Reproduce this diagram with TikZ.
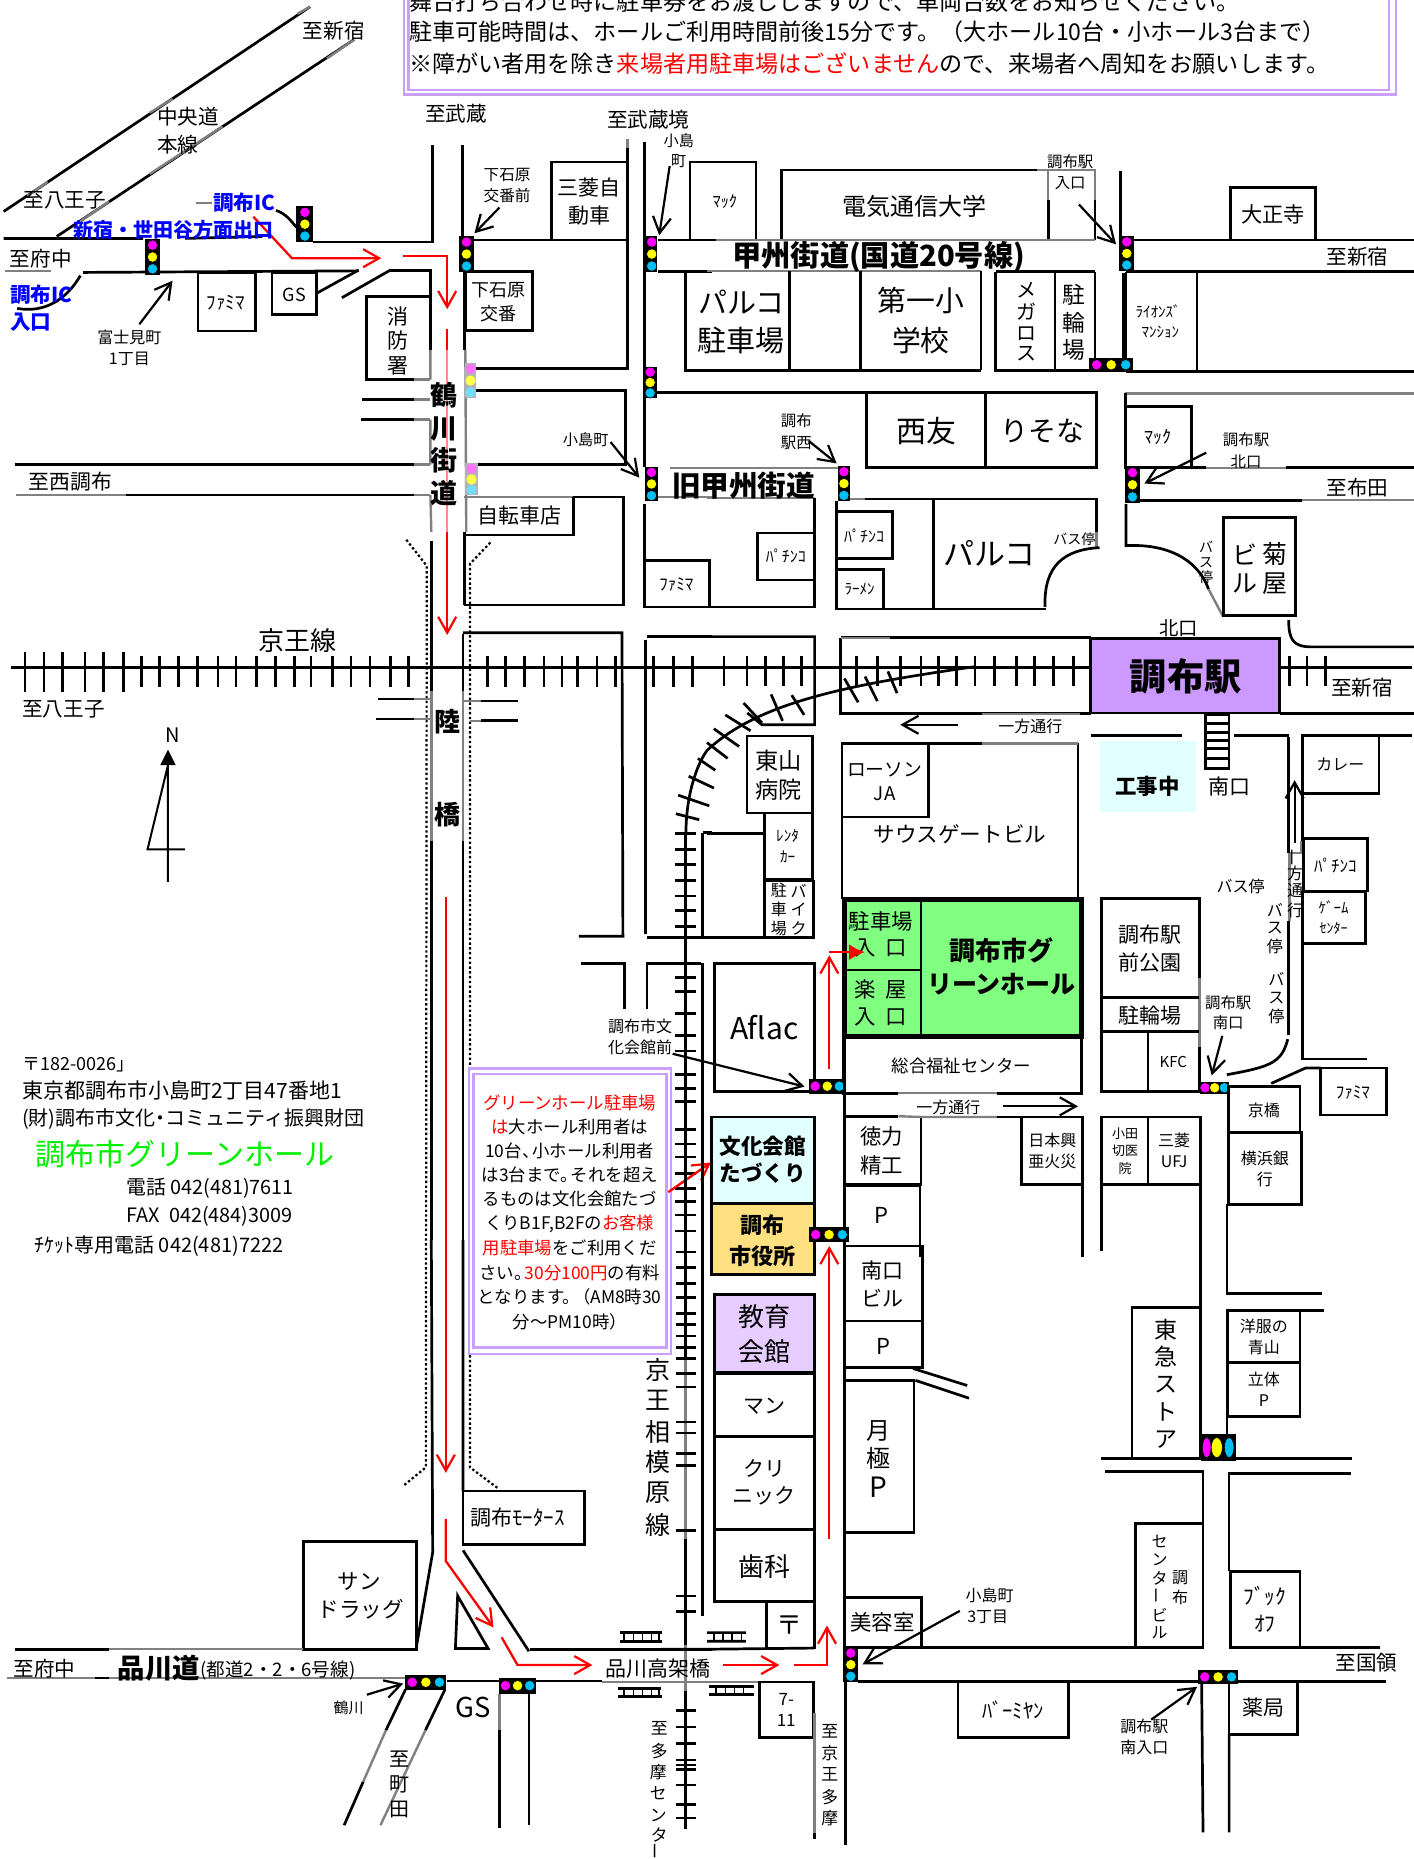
\documentclass[tikz,border=0pt]{standalone}
\usepackage{fontspec}
\setmainfont{Noto Sans CJK JP}
\usetikzlibrary{arrows.meta}
\definecolor{sm}{HTML}{FF00FF}\definecolor{sy}{HTML}{FFFF00}\definecolor{sc}{HTML}{00BFF3}
\definecolor{lil}{HTML}{C9A0FF}\definecolor{gry}{HTML}{808080}\definecolor{pk}{HTML}{FF8C8C}
\definecolor{blu}{HTML}{0000FF}\definecolor{hallg}{HTML}{80FF80}\definecolor{lcy}{HTML}{E2FFFF}
\definecolor{stn}{HTML}{CC99FF}\definecolor{edu}{HTML}{E6CCFF}\definecolor{cty}{HTML}{FFE080}
\tikzset{
 fa/.style={x=.227pt,y=-.1977pt},
 fr/.style={x=.229pt,y=-.1977pt},
 fb/.style={fr,xshift=353.5pt},
 fc/.style={fa,yshift=-310pt},
 fd/.style={fr,xshift=353.5pt,yshift=-310pt},
 fe/.style={fa,yshift=-620pt},
 ff/.style={fr,xshift=353.5pt,yshift=-620pt},
 rd/.style={line width=1.35pt,black},
 gr/.style={line width=1.2pt,gry},
 dots/.style={line width=1.1pt,black,dash pattern=on 1.2pt off 1.2pt},
 tip/.style={-{Straight Barb[length=8pt,width=9pt,line width=1.1pt]}},
 rarr/.style={line width=1.15pt,red,tip},
 blk/.style={line width=1.1pt,black,tip},
 sgn/.style={circle,inner sep=0pt,minimum size=5.2pt,draw=black,line width=.3pt},
}
\newcount\nnc
\newcommand\nxt{\global\advance\nnc by 1\relax}
\newcommand\lb[3]{\nxt\node[inner sep=0pt,font=\fontsize{#2}{#2}\selectfont] (n\the\nnc) at (#1) {#3};}
\newcommand\lbw[3]{\nxt\node[inner sep=0pt,anchor=west,font=\fontsize{#2}{#2}\selectfont] (n\the\nnc) at (#1) {#3};}
\newcommand\bx[2]{\draw[rd] (#1) rectangle (#2);}
\newcommand\lead[3][blk]{\coordinate (la) at (#2);\coordinate (lb) at (#3);\draw[#1] (la)--(lb);}
\newcommand\sigV[4]{\fill[black] (#1,#2) rectangle (#3,#4);
 \pgfmathsetmacro\smx{(#1+#3)/2}\pgfmathsetmacro\sya{#2+(#4-#2)/6}\pgfmathsetmacro\syb{#2+(#4-#2)/2}\pgfmathsetmacro\syc{#2+(#4-#2)*5/6}
 \nxt\node[sgn,fill=sm] (n\the\nnc) at (\smx,\sya) {};\nxt\node[sgn,fill=sy] (n\the\nnc) at (\smx,\syb) {};\nxt\node[sgn,fill=sc] (n\the\nnc) at (\smx,\syc) {};}
\newcommand\sigP[4]{\fill[gry!60] (#1,#2) rectangle (#3,#4);
 \pgfmathsetmacro\smx{(#1+#3)/2}\pgfmathsetmacro\sya{#2+(#4-#2)/6}\pgfmathsetmacro\syb{#2+(#4-#2)/2}\pgfmathsetmacro\syc{#2+(#4-#2)*5/6}
 \nxt\node[sgn,draw=none,fill=sm!55] (n\the\nnc) at (\smx,\sya) {};\nxt\node[sgn,draw=none,fill=sy!70] (n\the\nnc) at (\smx,\syb) {};\nxt\node[sgn,draw=none,fill=sc!55] (n\the\nnc) at (\smx,\syc) {};}
\newcommand\sigH[4]{\fill[black] (#1,#2) rectangle (#3,#4);
 \pgfmathsetmacro\smy{(#2+#4)/2}\pgfmathsetmacro\sxa{#1+(#3-#1)/6}\pgfmathsetmacro\sxb{#1+(#3-#1)/2}\pgfmathsetmacro\sxc{#1+(#3-#1)*5/6}
 \nxt\node[sgn,fill=sm] (n\the\nnc) at (\sxa,\smy) {};\nxt\node[sgn,fill=sy] (n\the\nnc) at (\sxb,\smy) {};\nxt\node[sgn,fill=sc] (n\the\nnc) at (\sxc,\smy) {};}
\newcommand\tg{\hspace{-.4em}}
\begin{document}
\begin{tikzpicture}
\useasboundingbox (0pt,0pt) rectangle (707pt,-929.5pt);
\clip (0pt,0pt) rectangle (707pt,-929.5pt);
\fill[white] (0pt,0pt) rectangle (707pt,-929.5pt);
%==== top note
\begin{scope}[fa]
\draw[lil,line width=1.4pt] (890,-30) rectangle (3075,240);
\draw[lil,line width=1.2pt] (900,-30) rectangle (3060,228);
\lbw{900,5}{11.55}{舞台打ち合わせ時に駐車券をお渡ししますので、車両台数をお知らせください。}
\lbw{900,80}{11.55}{駐車可能時間は、ホールご利用時間前後15分です。（大ホール10台・小ホール3台まで）}
\lbw{900,160}{11.55}{※障がい者用を除き\textcolor{red}{来場者用駐車場はございません}ので、来場者へ周知をお願いします。}
\end{scope}
%==== frame A: upper left
\begin{scope}[fa]
\draw[rd] (8,535)--(683,17); \draw[gr] (60,495)--(105,460) (330,285)--(380,250) (655,35)--(683,17);
\draw[rd] (125,598)--(780,100); \draw[gr] (170,565)--(240,510) (330,440)--(490,320) (720,148)--(780,100);
\draw[rd] (8,603)--(315,603) (408,603)--(578,598) (183,689)--(790,685);
\draw[gr] (12,685)--(113,685) (432,514)--(468,514);
\draw[rd] (690,612)--(953,612)--(953,367) (1019,367)--(1019,600);
\draw[rd] (1045,607)--(1382,607) (1382,375)--(1382,935) (1214,607)--(1214,410)--(1382,410);
\draw[gr] (1382,352)--(1382,375);
\draw[rd] (1420,358)--(1420,1180) (1420,1275)--(1420,1535);
\bx{1420,1417}{1562,1535}
\draw[rd] (1450,607)--(1568,607) (1450,686)--(1568,686) (1510,686)--(1510,937)--(1568,937) (1448,992)--(1568,992);
\draw[rd] (1520,607)--(1520,410)--(1568,410);
\draw[gr] (1476,1183)--(1568,1183) (1450,1257)--(1568,1257);
\draw[rd] (1048,932)--(1382,932) (1048,988)--(1378,988)--(1378,1175)--(1045,1175);
\draw[rd] (860,685)--(948,685)--(948,885) (1023,686)--(1023,885);
\draw[gr] (948,885)--(948,960) (948,1061)--(948,1175) (948,1252)--(950,1345) (1025,885)--(1027,1345);
\draw[rd] (948,750)--(807,750)--(807,960)--(912,960); \draw[gr] (912,960)--(948,960);
\bx{1025,686}{1173,836}
\bx{599,690}{697,795}
\bx{436,690}{562,837}
\draw[rd] (697,742)--(790,683) (753,753)--(860,683);
\draw[rd] (798,1010)--(912,1010) (795,1061)--(912,1061) (32,1175)--(912,1175) (278,1252)--(912,1252);
\draw[gr] (912,1010)--(948,1010) (912,1061)--(948,1061) (912,1175)--(948,1175) (35,1252)--(278,1252) (912,1252)--(948,1252);
\draw[rd] (1263,1257)--(1373,1257)--(1373,1530)--(1023,1530);
\draw[rd] (1023,1345)--(1023,1530);
\draw[gr] (1023,1257)--(1263,1257);
\draw[rd] (1263,1257)--(1263,1353)--(1023,1353);
\draw[rd] (608,532) to[out=-20,in=130] (653,575) (38,780) to[out=-10,in=-120] (177,697);
\sigV{653}{522}{690}{612}\sigV{320}{605}{352}{695}\sigV{1010}{597}{1045}{688}\sigV{1423}{597}{1448}{688}
\sigP{1025}{918}{1048}{1007}\sigP{1025}{1172}{1052}{1253}\sigV{1418}{928}{1446}{1007}\sigV{1420}{1180}{1450}{1268}
\draw[rarr] (558,548)--(643,653)--(840,653);
\draw[rarr] (888,648)--(985,648)--(985,782);
\draw[line width=1.15pt,red] (985,832)--(985,885); \draw[line width=1.15pt,pk] (985,885)--(985,1345);
\draw[rarr] (985,1345)--(985,1606);
\lead{1100,525}{1045,590}\lead{307,820}{380,710}\lead{1475,420}{1452,595}\lead{1345,1118}{1408,1208}
\lb{735,78}{10.3}{至新宿}
\lbw{345,295}{10.3}{中央道}\lbw{345,365}{10.3}{本線}
\lb{143,507}{10.3}{至八王子}
\lb{538,512}{10.3}{\bfseries\textcolor{blu}{調布IC}}
\lb{382,582}{10}{\bfseries\textcolor{blu}{新宿・世田谷方面出口}}
\lb{90,654}{10.3}{至府中}
\lbw{22,745}{10.3}{\bfseries\textcolor{blu}{調布IC}}\lbw{22,815}{10.3}{\bfseries\textcolor{blu}{入口}}
\lb{285,854}{8}{富士見町}\lb{285,907}{8}{1丁目}
\lb{497,767}{9.5}{ﾌｧﾐﾏ}\lb{648,745}{9}{GS}
\lb{1117,443}{7.8}{下石原}\lb{1117,495}{7.8}{交番前}
\lb{1298,475}{10.5}{三菱自}\lb{1298,545}{10.5}{動車}
\lb{1005,288}{10.3}{至武蔵}\lb{1428,302}{10.3}{至武蔵境}
\lb{1495,355}{7.6}{小島}\lb{1495,408}{7.6}{町}
\lb{1098,733}{9}{下石原}\lb{1098,793}{9}{交番}
\lb{877,800}{10.5}{消}\lb{877,862}{10.5}{防}\lb{877,925}{10.5}{署}
\lb{1290,1112}{7.6}{小島町}
\lb{155,1218}{10.4}{至西調布}
\lb{978,1000}{13.5}{\bfseries 鶴}\lb{978,1085}{13.5}{\bfseries 川}\lb{978,1165}{13.5}{\bfseries 街}\lb{978,1248}{13.5}{\bfseries 道}
\lb{1145,1305}{10.5}{自転車店}
\lb{1490,1478}{8.5}{ﾌｧﾐﾏ}
\end{scope}
%==== frame B: upper right
\begin{scope}[fb]
\draw[rd] (0,410)--(107,410)--(107,607) (0,607)--(20,607);
\draw[rd] (163,607)--(163,430)--(720,430) (745,505)--(745,607) (847,505)--(847,607) (903,432)--(903,600);
\draw[gr] (720,430)--(847,430)--(847,505) (745,430)--(745,505) (20,607)--(847,607);
\draw[rd] (933,607)--(1544,607) (915,687)--(1544,687) (915,940)--(1544,940);
\bx{1143,475}{1328,607}
\draw[gr] (0,685)--(598,685);
\draw[rd] (0,937)--(598,937) (180,685)--(180,937) (335,685)--(335,937) (598,685)--(598,937);
\draw[rd] (630,687)--(847,687) (630,687)--(630,937)--(835,937) (760,687)--(760,937) (847,687)--(847,905);
\draw[rd] (910,690)--(910,905) (915,687)--(915,940) (1070,687)--(1070,940);
\draw[rd] (0,992)--(850,992)--(850,1183)--(348,1183)--(348,992) (608,992)--(608,1183);
\draw[gr] (0,1183)--(285,1183) (0,1260)--(235,1260) (313,1262)--(345,1262);
\draw[rd] (345,1262)--(850,1262)--(850,1345); \draw[gr] (850,1345)--(850,1385);
\draw[rd] (235,1260)--(235,1535)--(0,1535);
\bx{110,1348}{235,1467}
\draw[rd] (283,1268)--(283,1540)--(740,1540) (495,1262)--(495,1540);
\bx{283,1293}{405,1412}\bx{283,1440}{385,1540}
\draw[rd] (857,1385) .. controls (780,1390) and (735,1430) .. (738,1535);
\draw[rd] (915,1275)--(915,1380) .. controls (1000,1375) and (1070,1410) .. (1095,1490);
\draw[gr] (1095,1490)--(1127,1560);
\bx{1127,1308}{1285,1557}
\draw[gry,line width=1.1pt] (913,995)--(1544,995); \draw[rd] (913,995)--(913,1183);
\bx{913,1028}{1058,1183}
\draw[rd] (945,1183)--(1090,1183) (1265,1183)--(1544,1183) (945,1265)--(1300,1265);
\draw[gr] (1090,1183)--(1265,1183) (1300,1265)--(1544,1265);
\sigV{900}{597}{933}{685}\sigH{835}{905}{930}{940}\sigV{285}{1178}{313}{1268}\sigV{913}{1180}{945}{1272}
\lead{812,517}{893,618}\lead{222,1115}{283,1172}\lead{1090,1145}{955,1223}
\lb{453,522}{12}{電気通信大学}
\lb{793,410}{7.7}{調布駅}\lb{793,463}{7.7}{入口}
\lb{1236,542}{10.6}{大正寺}\lb{1420,650}{10.3}{至新宿}\lb{39,510}{8.2}{ﾏｯｸ}
\lb{375,650}{14.6}{\bfseries 甲州街道(国道20号線)}
\lb{75,765}{14.5}{パルコ}\lb{75,860}{14.5}{駐車場}
\lb{467,760}{14.4}{第一小}\lb{467,862}{14.4}{学校}
\lb{697,735}{10}{メ}\lb{697,787}{10}{ガ}\lb{697,845}{10}{ロ}\lb{697,895}{10}{ス}
\lb{802,745}{11.4}{駐}\lb{802,817}{11.4}{輪}\lb{802,885}{11.4}{場}
\lb{985,787}{7.5}{ﾗｲｵﾝｽﾞ}\lb{990,840}{7.5}{ﾏﾝｼｮﾝ}
\lb{480,1090}{15}{西友}\lb{732,1090}{14}{りそな}
\lb{195,1065}{7.7}{調布}\lb{195,1120}{7.7}{駅西}
\lb{80,1228}{14.3}{\bfseries 旧甲州街道}
\lb{172,1407}{8}{ﾊﾟﾁﾝｺ}\lb{343,1355}{8}{ﾊﾟﾁﾝｺ}\lb{333,1490}{7.5}{ﾗｰﾒﾝ}
\lb{617,1400}{15.5}{パルコ}\lb{802,1363}{7}{バス停}
\lb{1090,1382}{7}{バ}\lb{1090,1423}{7}{ス}\lb{1090,1460}{7}{停}
\lb{1175,1402}{12.5}{ビ}\lb{1240,1402}{12.5}{菊}\lb{1175,1475}{12.5}{ル}\lb{1240,1475}{12.5}{屋}
\lb{985,1105}{9}{ﾏｯｸ}\lb{1177,1113}{7.7}{調布駅}\lb{1177,1167}{7.7}{北口}
\lb{1420,1233}{10.3}{至布田}
\end{scope}
%==== frame E dotted + long lines
\begin{scope}[fe]
\draw[dots] (895,-1771)--(940,-1705)--(938,575)--(888,622);
\draw[dots] (1080,-1764)--(1035,-1710)--(1035,575)--(1097,628);
\end{scope}
%==== frame C
\begin{scope}[fc]
\draw[rd] (25,120)--(1568,120);
\foreach \x in {55,97,137,187,228,272} \draw[rd] (\x,82)--(\x,182);
\foreach \x in {312,352,393,435,480,520,565,607,648,685,733,773,815,860,900,1073,1113,1155,1198,1238,1272,1315,1355,1440,1483,1525} \draw[rd] (\x,92)--(\x,170);
\draw[rd] (950,-200)--(950,180) (1020,35)--(1020,180) (950,560)--(950,1568) (1020,560)--(1020,1568);
\draw[gr] (950,180)--(950,560) (1020,180)--(1020,560);
\draw[rd] (1020,32)--(1370,32)--(1372,800)--(1275,800);
\draw[rd] (1280,868)--(1375,868)--(1375,985) (1425,985)--(1425,868)--(1545,868);
\draw[rd] (1422,795)--(1422,50) (1425,42)--(1568,42) (1425,803)--(1568,803) (1548,538)--(1548,803) (1548,538)--(1568,538);
\draw[rd] (832,200)--(912,200) (828,250)--(912,250) (1060,205)--(1140,205) (1060,255)--(1140,255);
\draw[gr] (912,200)--(950,200) (912,250)--(950,250) (1020,205)--(1060,205) (1035,255)--(1060,255);
\foreach \y in {540,580,618,658,698,735,775,905,940,995,1050,1090,1150,1185,1218,1288,1325,1358,1400,1437,1470,1505,1545} \draw[rd] (1487,\y)--(1533,\y);
\lb{655,53}{13}{京王線}\lb{140,227}{10.3}{至八王子}
\lb{380,292}{10}{N}
\fill[black] (370,328)--(353,367)--(387,367)--cycle;
\draw[line width=1pt] (370,367)--(370,662) (370,367)--(325,580)--(407,580);
\lb{985,258}{13}{\bfseries 陸}\lb{985,493}{13}{\bfseries 橋}
\draw[rarr] (982,700)--(982,2157);
\lbw{48,1125}{9}{〒182-0026」}
\lbw{48,1190}{10.5}{東京都調布市小島町2丁目47番地1}
\lbw{48,1262}{10}{(財)調布市文化\hspace{-.25em}・\hspace{-.25em}コミュニティ振興財団}
\lb{408,1350}{15}{\textcolor[HTML]{00F000}{調布市グリーンホール}}
\lbw{278,1438}{9.9}{電話 042(481)7611}
\lbw{278,1507}{9.9}{FAX\ \ 042(484)3009}
\lb{1410,1028}{8}{調布市文}\lb{1410,1080}{8}{化会館前}
\draw[lil,line width=1.3pt,fill=white] (1033,1135) rectangle (1478,1856);
\draw[lil,line width=1.3pt] (1043,1148) rectangle (1468,1840);
\lb{1255,1220}{8.7}{\textcolor{red}{グリーンホール駐車場}}
\lb{1255,1282}{8.7}{\textcolor{red}{は}大ホール利用者は}
\lb{1255,1342}{8.7}{10台、\tg 小ホール利用者}
\lb{1255,1403}{8.7}{は3台まで。\tg それを超え}
\lb{1255,1465}{8.7}{るものは文化会館たづ}
\lb{1255,1527}{8.7}{くりB1F,B2Fの\textcolor{red}{お客様}}
\lb{1255,1589}{8.7}{\textcolor{red}{用駐車場}をご利用くだ}
\lb{1255,1651}{8.7}{さい。\tg\textcolor{red}{30分100円}の有料}
\lb{1255,1712}{8.7}{となります。\tg（AM8時30}
\lb{1255,1774}{8.7}{分～PM10時）}
\draw[rarr] (1472,1447)--(1566,1372);
\end{scope}
%==== frame D
\begin{scope}[fd]
\draw[rd] (0,120)--(838,120) (1250,120)--(1540,120);
\foreach \x in {37,87,127,167,207,327,372,422,467,505,545,585,627,675,715,757,800,1272,1310,1350} \draw[rd] (\x,92)--(\x,168);
\draw[rd] (0,42)--(235,42)--(235,265)--(120,265)--(88,235);
\draw[rd] (585,118) .. controls (300,165) and (110,210) .. (0,330) .. controls (-25,370) and (-46,450) .. (-46,540);
\draw[rd] (300,148)--(330,208) (345,143)--(372,205) (395,130)--(415,185) (140,188)--(165,255) (185,190)--(212,240) (80,210)--(120,260) (40,240)--(95,280) (15,275)--(70,320) (0,310)--(45,350) (-20,350)--(18,380) (-40,395)--(15,425) (-63,443)--(5,470) (-68,490)--(-17,505);
\draw[rd] (292,45)--(838,45) (292,45)--(292,237)--(838,237);
\draw[gr] (600,237)--(815,237) (292,45)--(400,45);
\draw[rd,fill=stn] (838,47) rectangle (1250,235);
\lb{1045,143}{18.6}{\bfseries 調布駅}\lb{1030,20}{9.7}{北口}
\draw[rd] (1250,237)--(1545,237);
\draw[rd] (1270,0) .. controls (1270,50) and (1280,68) .. (1320,68)--(1545,68);
\lb{1430,170}{10.3}{至新宿}
\lb{706,268}{8}{一方通行}
\draw[blk] (548,265)--(422,265);
\draw[rd] (810,312)--(810,705) (295,312)--(295,705) (295,312)--(600,312); \draw[gr] (600,312)--(810,312);
\bx{295,312}{483,498}
\lb{388,378}{9.4}{ローソン}\lb{388,440}{9.4}{JA}
\lb{552,542}{10.8}{サウスゲートビル}
\draw[black,line width=2.6pt,fill=hallg] (300,707) rectangle (818,1053);
\draw[rd] (467,707)--(467,1053) (300,885)--(467,885);
\lb{380,763}{10.7}{駐車場}\lb{380,830}{10.7}{入\ \ 口}\lb{380,935}{10.7}{楽\ \ 屋}\lb{380,1005}{10.7}{入\ \ 口}
\lb{643,835}{13}{\bfseries 調布市グ}\lb{643,922}{12.5}{\bfseries リーンホール}
\draw[rd] (297,1055)--(297,1197)--(418,1197) (633,1197)--(818,1197)--(818,1055);
\draw[gr] (418,1197)--(633,1197);
\lb{555,1127}{8.7}{総合福祉センター}
\bx{87,293}{230,488}\lb{157,355}{11.6}{東山}\lb{157,430}{11.6}{病院}
\bx{125,488}{230,655}\lb{176,547}{7.6}{ﾚﾝﾀ}\lb{176,600}{7.6}{ｶｰ}
\bx{125,660}{232,803}
\lb{157,685}{8}{駐}\lb{157,733}{8}{車}\lb{157,780}{8}{場}\lb{200,685}{8}{バ}\lb{200,733}{8}{イ}\lb{200,780}{8}{ク}
\draw[rd] (0,540)--(122,540) (0,803)--(125,803);
\bx{17,868}{235,1193}\lb{125,1030}{15}{Aflac}
\draw[blk] (-75,1097)--(213,1180);
\sigH{223}{1160}{302}{1198}
\draw[rarr] (267,1135)--(267,848);
\draw[line width=1.15pt,red,-{Latex[length=8pt,width=8pt]}] (267,840)--(345,840);
\lb{527,1232}{8}{一方通行}
\draw[blk] (647,1230)--(810,1230);
\draw[rd] (300,1255)--(418,1255) (467,1257)--(467,1427)--(300,1427)--(300,1255);
\draw[gr] (418,1255)--(467,1257)--(633,1257);
\draw[rd] (633,1257)--(687,1257);
\lb{382,1305}{10.7}{徳力}\lb{382,1378}{10.7}{精工}
\bx{687,1257}{820,1428}\lb{754,1317}{8}{日本興}\lb{754,1370}{8}{亜火災}
\draw[rd] (820,1428)--(820,1610) (862,1430)--(862,1595);
\bx{862,1257}{963,1428}\lb{913,1300}{6.5}{小田}\lb{913,1343}{6.5}{切医}\lb{913,1387}{6.5}{院}
\bx{963,1257}{1078,1428}\lb{1020,1315}{8}{三菱}\lb{1020,1370}{8}{UFJ}
\draw[rd] (1078,1428)--(1078,2000) (1135,1478)--(1135,1610);
\draw[rd] (862,955)--(862,705)--(1075,705)--(1075,905);
\draw[gr] (1075,905)--(1075,1080);
\draw[rd] (1075,1080)--(1075,1193)--(862,1193)--(862,955)--(1075,955) (862,1040)--(1075,1040) (963,1040)--(963,1193);
\lb{968,795}{10.5}{調布駅}\lb{968,865}{10.5}{前公園}\lb{968,1000}{10.5}{駐輪場}\lb{1018,1118}{7.5}{KFC}
\lb{1138,967}{7.7}{調布駅}\lb{1138,1018}{7.7}{南口}
\draw[blk] (1125,1052)--(1102,1152);
\sigH{1077}{1168}{1140}{1198}
\draw[rd] (1268,1060) .. controls (1255,1120) and (1230,1130) .. (1135,1150);
\draw[rd] (1270,297)--(1270,590) (1270,760)--(1270,1050) (1300,295)--(1300,560) (1300,685)--(1300,1110)--(1442,1110);
\draw[gr] (1272,590)--(1298,590) (1272,590)--(1272,760) (1298,560)--(1298,590);
\draw[rd] (838,292)--(1038,292) (1150,292)--(1270,292) (1300,292)--(1540,292);
\draw[rd] (1088,240) rectangle (1140,375);
\foreach \y in {262,285,305,325,350} \draw[rd] (1088,\y)--(1140,\y);
\fill[lcy] (858,305) rectangle (1068,485);
\lb{962,422}{10.7}{\bfseries 工事中}\lb{1140,422}{10.5}{南口}
\bx{1300,292}{1467,438}\lb{1383,365}{8}{カレー}
\bx{1303,553}{1442,685}\lb{1372,620}{8.5}{ﾊﾟﾁﾝｺ}
\bx{1300,688}{1437,818}\lb{1368,728}{7.5}{ｹﾞｰﾑ}\lb{1368,780}{7}{ｾﾝﾀｰ}
\draw[blk] (1283,565)--(1283,405);
\lb{1284,600}{8}{\rotatebox{90}{一}}\lb{1284,640}{8}{方}\lb{1284,685}{8}{通}\lb{1284,735}{8}{行}
\lb{1165,675}{8}{バス停}
\lb{1240,733}{8}{バ}\lb{1240,780}{8}{ス}\lb{1240,825}{8}{停}\lb{1243,907}{8}{バ}\lb{1243,957}{8}{ス}\lb{1243,1002}{8}{停}
\bx{1340,1133}{1483,1252}\lb{1410,1195}{8.5}{ﾌｧﾐﾏ}
\draw[rd] (1232,1172)--(1307,1133)--(1340,1133);
\bx{1138,1180}{1295,1297}\lb{1216,1240}{8}{京橋}
\bx{1138,1297}{1298,1478}\lb{1218,1363}{8}{横浜銀}\lb{1218,1415}{8}{行}
\draw[rd,fill=lcy] (10,1257) rectangle (235,1475);
\lb{122,1332}{10.8}{\bfseries 文化会館}\lb{122,1400}{10.8}{\bfseries たづくり}
\draw[rd,fill=cty] (10,1475) rectangle (235,1656);
\lb{122,1530}{11}{\bfseries 調布}\lb{122,1610}{11}{\bfseries 市役所}
\draw[rd] (300,1430)--(465,1430)--(465,1610) (300,1053)--(300,2000);
\lb{380,1505}{11}{P}
\sigH{223}{1535}{310}{1574}
\end{scope}
%==== frame E
\begin{scope}[fe]
\draw[rd] (1510,-1031)--(1510,300) (1510,755)--(1510,1025) (1510,1140)--(1510,1490) (1547,-701)--(1547,950);
\draw[gr] (1510,300)--(1510,755) (1510,1025)--(1510,1140);
\foreach \y in {30,70,110,145,185,213,243,272,300,338,372,460,488,540,570,735,900,940,1190,1232,1273,1315,1328,1340,1378,1428,1462} \draw[rd] (1490,\y)--(1533,\y);
\bx{1020,635}{1288,770}\lb{1140,702}{10.5}{調布ﾓｰﾀｰｽ}
\draw[rd] (950,0)--(953,790)--(917,1030) (1020,0)--(1020,635) (1020,785)--(1165,1040);
\bx{668,763}{917,1035}\lb{792,865}{10.8}{サン}\lb{795,935}{10.8}{ドラッグ}
\draw[rd] (1008,900)--(1003,1033)--(1075,1033)--cycle;
\draw[rd] (32,1035)--(240,1035) (1168,1035)--(1568,1035) (985,1115)--(1100,1115) (1180,1115)--(1325,1115) (210,1108)--(240,1108);
\draw[gr] (240,1035)--(668,1035) (15,1108)--(210,1108) (240,1108)--(893,1108) (1325,1118)--(1568,1118);
\draw[rd] (1365,993)--(1458,993) (1365,1015)--(1458,1015);
\foreach \x in {1375,1395,1415,1435,1452} \draw[line width=.8pt] (\x,993)--(\x,1015);
\draw[rd] (1362,1135)--(1455,1135) (1362,1155)--(1458,1155);
\foreach \x in {1375,1395,1415,1435,1452} \draw[line width=.8pt] (\x,1135)--(\x,1155);
\sigH{893}{1100}{983}{1137}\sigH{1100}{1107}{1180}{1147}
\draw[rd] (893,1137)--(850,1240) (800,1370)--(758,1480) (980,1137)--(937,1240);
\draw[gr] (850,1240)--(800,1370) (937,1240)--(838,1480);
\draw[rd] (1100,1240)--(1100,1488) (1165,1147)--(1165,1480); \draw[gr] (1100,1147)--(1100,1240);
\lb{98,1085}{10.3}{至府中}\lb{350,1082}{13.7}{\bfseries 品川道}\lb{612,1088}{9.3}{(都道2・2・6号線)}
\lb{768,1182}{7.5}{鶴川}\lb{1043,1183}{13.7}{GS}
\lb{880,1313}{10}{至}\lb{880,1378}{10}{町}\lb{880,1440}{10}{田}
\lb{1450,328}{12.5}{京}\lb{1450,405}{12.5}{王}\lb{1450,485}{12.5}{相}\lb{1450,562}{12.5}{模}\lb{1450,640}{12.5}{原}\lb{1450,720}{12.5}{線}
\lb{1450,1085}{10.5}{品川高架橋}
\lb{1452,1235}{8.4}{至}\lb{1452,1292}{8.4}{多}\lb{1450,1345}{8.4}{摩}\lb{1450,1398}{8.4}{セ}\lb{1450,1455}{8.4}{ン}\lb{1452,1505}{8.4}{タ}\lb{1450,1545}{8.4}{\rotatebox{90}{ー}}
\lbw{75,15}{10}{ﾁｹｯﾄ専用電話 042(481)7222}
\draw[rarr] (982,705)--(982,812)--(1087,980);
\draw[rarr] (1105,1005)--(1140,1075)--(1305,1075);
\lead{808,1150}{888,1122}
\end{scope}
%==== frame F
\begin{scope}[ff]
\draw[rd] (-100,1035)--(0,1035)--(235,1032) (0,993)--(85,993) (0,1015)--(85,1015);
\foreach \x in {15,35,55,75} \draw[line width=.8pt] (\x,993)--(\x,1015);
\draw[gr] (0,1118)--(115,1118);
\draw[rd] (5,1130)--(103,1130) (5,1150)--(103,1150);
\foreach \x in {20,40,60,80} \draw[line width=.8pt] (\x,1130)--(\x,1150);
\bx{300,15}{470,205}\lb{383,78}{10.5}{南口}\lb{383,148}{10.5}{ビル}
\bx{300,205}{470,323}\lb{385,268}{11}{P}
\draw[rd] (450,325)--(568,368) (455,355)--(572,400);
\bx{300,355}{452,740}\lb{375,483}{12}{月}\lb{375,553}{12}{極}\lb{375,625}{14}{P}
\draw[rd,fill=edu] (17,138) rectangle (235,335);\lb{125,195}{13}{教育}\lb{125,282}{13}{会館}
\bx{17,338}{235,497}\lb{125,420}{10.5}{マン}
\bx{17,497}{235,732}\lb{125,578}{10.5}{クリ}\lb{125,648}{10.5}{ニック}
\bx{17,732}{235,915}\lb{125,825}{13}{歯科}
\bx{130,915}{235,1032}\lb{180,975}{13}{〒}
\bx{115,1118}{232,1258}\lb{173,1163}{8.5}{7-}\lb{173,1215}{8.5}{11}
\draw[rd] (235,1032)--(235,915) (235,1500)--(235,1515); \draw[gr] (235,1195)--(235,1500);
\lb{268,1242}{8.4}{至}\lb{268,1298}{8.4}{京}\lb{268,1352}{8.4}{王}\lb{268,1408}{8.4}{多}\lb{268,1462}{8.4}{摩}
\draw[rd] (300,0)--(300,1030) (303,1118)--(303,1530);
\bx{300,905}{468,1030}\lb{383,968}{10.7}{美容室}
\draw[rd] (468,1030)--(935,1030);
\bx{935,717}{1083,1030}
\lb{988,762}{8}{セ}\lb{988,810}{8}{ン}\lb{988,855}{8}{タ}\lb{988,900}{8}{\rotatebox{90}{ー}}\lb{988,948}{8}{ビ}\lb{988,993}{8}{ル}\lb{1033,855}{8}{調}\lb{1033,903}{8}{布}
\draw[rd] (870,585)--(1083,585)--(1083,717) (1405,590)--(1140,590)--(1140,837);
\bx{928,170}{1078,552}
\lb{1003,228}{11.5}{東}\lb{1003,295}{11.5}{急}\lb{1003,365}{11.5}{ス}\lb{1003,435}{11.5}{ト}\lb{1003,505}{11.5}{ア}
\draw[rd] (860,552)--(928,552) (1155,552)--(1408,552);
\draw[rd] (1135,0)--(1135,135)--(1342,135) (1138,178)--(1347,178) (1135,447)--(1135,490);
\fill[black] (1078,490) rectangle (1155,558);
\draw[fill=sm,line width=.3pt] (1091,525) ellipse [x radius=2.2pt,y radius=5pt];
\draw[fill=sy,line width=.3pt] (1113,525) ellipse [x radius=2.8pt,y radius=5pt];
\draw[fill=sc,line width=.3pt] (1140,525) ellipse [x radius=2.4pt,y radius=5pt];
\bx{1137,178}{1295,310}\lb{1216,218}{8}{洋服の}\lb{1216,272}{8}{青山}
\bx{1137,310}{1295,447}\lb{1216,352}{8}{立体}\lb{1216,405}{8}{P}
\bx{1143,838}{1295,1030}\lb{1218,900}{10.7}{ﾌﾞｯｸ}\lb{1218,970}{10.7}{ｵﾌ}
\draw[rd] (1295,1030)--(1470,1030) (330,1116)--(1072,1116) (1140,1116)--(1482,1116);
\lb{1440,1070}{10.3}{至国領}
\bx{548,1118}{790,1258}\lb{668,1190}{10.3}{ﾊﾞｰﾐﾔﾝ}
\bx{1140,1118}{1290,1250}\lb{1215,1183}{10.5}{薬局}
\draw[rd] (1080,1122)--(1083,1498) (1140,1250)--(1140,1498);
\sigV{298}{1030}{330}{1118}\sigH{1072}{1088}{1160}{1122}
\lead{552,938}{340,1073}\lead{970,1213}{1070,1130}
\lb{617,898}{8}{小島町}\lb{613,952}{8}{3丁目}\lb{955,1230}{8}{調布駅}\lb{955,1283}{8}{南入口}
\draw[rarr] (35,1075)--(158,1075);
\draw[rarr] (190,1075)--(262,1075)--(262,975);
\draw[rarr] (267,755)--(267,15);
\end{scope}
\end{tikzpicture}
\end{document}
